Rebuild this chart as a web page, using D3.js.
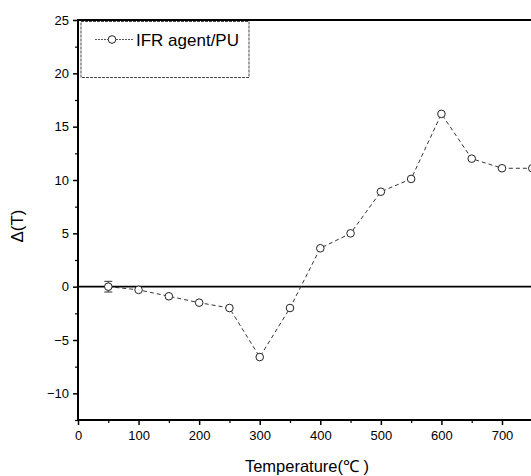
<!DOCTYPE html>
<html><head><meta charset="utf-8">
<script src="https://cdn.jsdelivr.net/npm/d3@7"></script>
<style>body{margin:0;background:#fff}svg{display:block}</style>
</head><body>
<svg id="c" width="531" height="476"></svg>
<script>
const temps = [50,100,150,200,250,300,350,400,450,500,550,600,650,700,750];
const deltaT = [0,-0.3,-0.9,-1.5,-2.0,-6.6,-2.0,3.6,5.0,8.9,10.1,16.2,12.0,11.1,11.1];
const errBars = [0.5,0,0,0,0,0,0,0,0,0,0,0,0,0,0];
const xTicks = [0,100,200,300,400,500,600,700];
const yTicks = [-10,-5,0,5,10,15,20,25];
const seriesName = "IFR agent/PU";
const xLabel = "Temperature(\u2103 )";
const yLabel = "\u0394(T)";

(function(){
const svg = d3.select("#c");
const mL = 78, mT = 20, mB = 420, mR = 531;
const x = d3.scaleLinear().domain([0, 700]).range([mL, 502]);
const y = d3.scaleLinear().domain([-12.5, 25]).range([mB, mT]);
const font = "Arial, 'Liberation Sans', sans-serif";

const xMinor = d3.range(50, 760, 100);
const yMinor = d3.range(-12.5, 25, 5);

const xAxis = svg.append("g").attr("transform", `translate(0,${mB})`)
  .call(d3.axisBottom(x).tickValues(xTicks).tickSize(5).tickSizeOuter(0).tickFormat(d3.format("d")));
xAxis.select(".domain").remove();
xAxis.selectAll("text").attr("font-family", font).attr("font-size", 13).attr("fill", "#000").attr("y", 11).attr("dy", "0.71em");
xAxis.selectAll("line").attr("stroke", "#000").attr("stroke-width", 1.5);
svg.append("g").attr("transform", `translate(0,${mB})`)
  .call(d3.axisBottom(x).tickValues(xMinor).tickSize(3).tickFormat(""))
  .call(g => g.select(".domain").remove())
  .selectAll("line").attr("stroke", "#000").attr("stroke-width", 1.2);

const yAxis = svg.append("g").attr("transform", `translate(${mL},0)`)
  .call(d3.axisLeft(y).tickValues(yTicks).tickSize(5).tickFormat(d3.format("d")));
yAxis.select(".domain").remove();
yAxis.selectAll("text").attr("font-family", font).attr("font-size", 13).attr("fill", "#000").attr("x", -9);
yAxis.selectAll("line").attr("stroke", "#000").attr("stroke-width", 1.5);
svg.append("g").attr("transform", `translate(${mL},0)`)
  .call(d3.axisLeft(y).tickValues(yMinor).tickSize(3).tickFormat(""))
  .call(g => g.select(".domain").remove())
  .selectAll("line").attr("stroke", "#000").attr("stroke-width", 1.2);

svg.append("line").attr("x1", mL).attr("x2", mR).attr("y1", mB).attr("y2", mB).attr("stroke", "#000").attr("stroke-width", 2);
svg.append("line").attr("x1", mL).attr("x2", mR).attr("y1", mT).attr("y2", mT).attr("stroke", "#000").attr("stroke-width", 2);
svg.append("line").attr("x1", mL).attr("x2", mL).attr("y1", mT - 1).attr("y2", mB + 1).attr("stroke", "#000").attr("stroke-width", 2);
svg.append("line").attr("x1", mL).attr("x2", mR).attr("y1", y(0)).attr("y2", y(0)).attr("stroke", "#000").attr("stroke-width", 1.8);

const line = d3.line().x((d, i) => x(temps[i])).y(d => y(d));
svg.append("path").datum(deltaT).attr("d", line).attr("fill", "none")
  .attr("stroke", "#333").attr("stroke-width", 1).attr("stroke-dasharray", "4,3");

// error bars (only where nonzero)
const eb = svg.append("g").attr("stroke", "#333").attr("stroke-width", 1);
deltaT.forEach((d, i) => {
  const e = errBars[i]; if (!e) return;
  const cx = x(temps[i]);
  eb.append("line").attr("x1", cx).attr("x2", cx).attr("y1", y(d + e)).attr("y2", y(d - e));
  eb.append("line").attr("x1", cx - 4).attr("x2", cx + 4).attr("y1", y(d + e)).attr("y2", y(d + e));
  eb.append("line").attr("x1", cx - 4).attr("x2", cx + 4).attr("y1", y(d - e)).attr("y2", y(d - e));
});

svg.selectAll("circle.pt").data(deltaT).join("circle").attr("class", "pt")
  .attr("cx", (d, i) => x(temps[i])).attr("cy", d => y(d)).attr("r", 3.8)
  .attr("fill", "#fff").attr("stroke", "#222").attr("stroke-width", 1);

svg.append("rect").attr("x", 81).attr("y", 21.5).attr("width", 168).attr("height", 56)
  .attr("fill", "#fff").attr("stroke", "#444").attr("stroke-width", 1).attr("stroke-dasharray", "3,1");
svg.append("line").attr("x1", 95).attr("x2", 133).attr("y1", 39.5).attr("y2", 39.5)
  .attr("stroke", "#555").attr("stroke-width", 1).attr("stroke-dasharray", "2,1");
svg.append("circle").attr("cx", 112).attr("cy", 39.5).attr("r", 3.8).attr("fill", "#fff").attr("stroke", "#222");
svg.append("text").attr("x", 136).attr("y", 45.5).text(seriesName)
  .attr("font-family", font).attr("font-size", 17).attr("fill", "#000");

svg.append("text").attr("x", 307).attr("y", 472).attr("text-anchor", "middle").text(xLabel)
  .attr("font-family", font).attr("font-size", 16.5).attr("fill", "#000");
svg.append("text").attr("transform", "translate(23,226) rotate(-90)").attr("text-anchor", "middle").text(yLabel)
  .attr("font-family", font).attr("font-size", 17).attr("fill", "#000");
})();
</script>
</body></html>
